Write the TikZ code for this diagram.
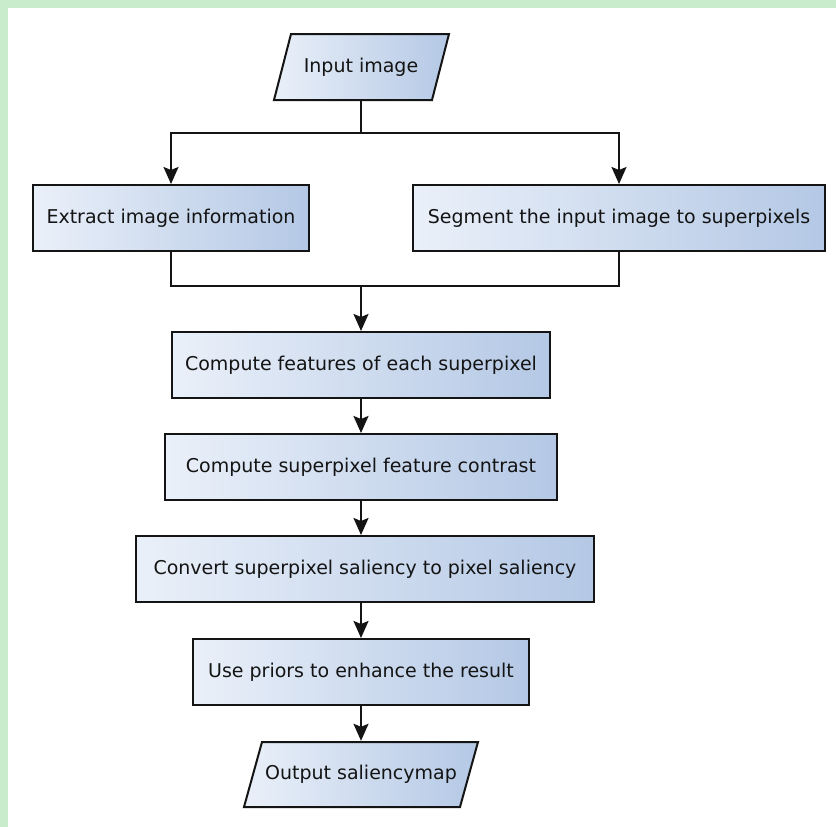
\documentclass[tikz,border=0pt]{standalone}
\usepackage{fontspec}
\setmainfont{DejaVu Sans}
\usetikzlibrary{arrows.meta}
\definecolor{frame}{RGB}{200,236,204}
\definecolor{gl}{RGB}{234,240,249}
\definecolor{gr}{RGB}{180,200,229}
\definecolor{ink}{RGB}{20,20,20}
\tikzset{
  box/.style={draw=ink, line width=2pt, left color=gl, right color=gr, minimum height=66pt, inner sep=0pt, font=\fontsize{19}{23}\selectfont, text=ink},
  para/.style={draw=ink, line width=2pt, left color=gl, right color=gr},
  lbl/.style={inner sep=0pt, minimum height=66pt, font=\fontsize{19}{23}\selectfont, text=ink},
  conn/.style={draw=ink, line width=2pt},
  arr/.style={conn, -{Stealth[length=17pt, width=15pt, inset=3pt]}}
}
\begin{document}
\begin{tikzpicture}[x=1pt,y=-1pt]
\useasboundingbox (0,0) rectangle (836,827);
\fill[frame] (0,0) rectangle (836,827);
\fill[white] (8,8) rectangle (836,827);

% parallelograms
\shade[para] (274,100) -- (291,34) -- (449,34) -- (432,100) -- cycle;
\node[lbl, minimum width=158pt] (inp) at (361,67) {Input image};

\node[box, minimum width=276pt] (ext) at (171,218) {Extract image information};
\node[box, minimum width=412pt] (seg) at (619,218) {Segment the input image to superpixels};
\node[box, minimum width=378pt] (b1) at (361,365) {Compute features of each superpixel};
\node[box, minimum width=392pt] (b2) at (361,467) {Compute superpixel feature contrast};
\node[box, minimum width=458pt] (b3) at (365,569) {Convert superpixel saliency to pixel saliency};
\node[box, minimum width=336pt] (b4) at (361,672) {Use priors to enhance the result};

\shade[para] (244,807) -- (262,742) -- (478,742) -- (460,807) -- cycle;
\node[lbl, minimum width=216pt] (out) at (361,774) {Output saliencymap};

\coordinate (split) at (361,133);
\coordinate (merge) at (361,286);

\draw[conn] (inp.south) -- (split);
\draw[arr] (split) -| (ext.north);
\draw[arr] (split) -| (seg.north);
\draw[conn] (ext.south) |- (merge);
\draw[conn] (seg.south) |- (merge);
\draw[arr] (merge) -- (b1.north);
\draw[arr] (b1.south) -- (b2.north);
\draw[arr] (b2.south) -- (b2.south |- b3.north);
\draw[arr] (b3.south -| b4.north) -- (b4.north);
\draw[arr] (b4.south) -- (out.north);
\end{tikzpicture}
\end{document}
